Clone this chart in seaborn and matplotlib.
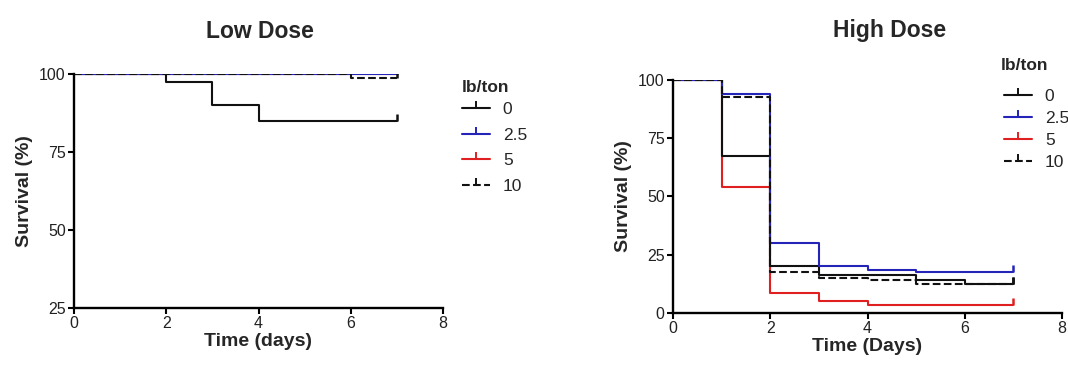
import numpy as np
import pandas as pd
import matplotlib
matplotlib.use("Agg")
import matplotlib.pyplot as plt
from matplotlib.lines import Line2D
import seaborn as sns

sns.set_style("ticks")
plt.rcParams['font.family'] = ['Liberation Sans', 'DejaVu Sans']

days = [0, 1, 2, 3, 4, 5, 6, 7]
doses = ["0", "2.5", "5", "10"]

low_0 = [100, 100, 97.5, 90, 85, 85, 85, 85]
low_2_5 = [100, 100, 100, 100, 100, 100, 100, 100]
low_5 = [100, 100, 100, 100, 100, 100, 100, 100]
low_10 = [100, 100, 100, 100, 100, 100, 98.7, 98.7]

high_0 = [100, 67.5, 20, 16.5, 16.5, 14, 12.5, 12.5]
high_2_5 = [100, 94, 30, 20, 18.5, 17.5, 17.5, 17.5]
high_5 = [100, 54, 8.5, 5, 3.5, 3.5, 3.5, 3.5]
high_10 = [100, 92.5, 17.5, 15, 14, 12.5, 12.5, 12.5]

colors = {"0": "#111111", "2.5": "#2424b8", "5": "#e02020", "10": "#111111"}
draw_order = ["5", "0", "2.5", "10"]


def build(series):
    rows = []
    for d, vals in zip(doses, series):
        for t, v in zip(days, vals):
            rows.append({"Time": t, "Survival": v, "Dose": d})
    return pd.DataFrame(rows)


low_df = build([low_0, low_2_5, low_5, low_10])
high_df = build([high_0, high_2_5, high_5, high_10])

fig = plt.figure(figsize=(10.68, 3.66), dpi=100)
axL = fig.add_axes([74 / 1068, 1 - 308 / 366, 369 / 1068, 234 / 366])
axR = fig.add_axes([673 / 1068, 1 - 313 / 366, 389 / 1068, 233 / 366])


def draw(ax, df):
    for d in draw_order:
        sub = df[df["Dose"] == d]
        ls = "--" if d == "10" else "-"
        sns.lineplot(data=sub, x="Time", y="Survival", ax=ax,
                     color=colors[d], drawstyle="steps-post",
                     linewidth=1.5, legend=False, linestyle=ls)
        # censor tick at the last observation
        last = sub.iloc[[-1]]
        ax.plot(last["Time"], last["Survival"], linestyle="none",
                marker=2, markersize=5, markeredgewidth=1.8,
                color=colors[d])
    for s in ["top", "right"]:
        ax.spines[s].set_visible(False)
    for s in ["left", "bottom"]:
        ax.spines[s].set_linewidth(1.7)
        ax.spines[s].set_color("black")
    ax.tick_params(axis="both", direction="out", length=4, width=1.5,
                   labelsize=11.5, colors="black", pad=2)
    for lab in ax.get_xticklabels() + ax.get_yticklabels():
        lab.set_color("#222222")
    ax.set_xlim(0, 8)
    ax.set_xticks([0, 2, 4, 6, 8])
    ax.set_ylabel("Survival (%)", fontsize=14, fontweight="bold", labelpad=4)


draw(axL, low_df)
axL.set_ylim(25, 100)
axL.set_yticks([25, 50, 75, 100])
axL.set_xlabel("Time (days)", fontsize=14, fontweight="bold", labelpad=1)

draw(axR, high_df)
axR.set_ylim(0, 100)
axR.set_yticks([0, 25, 50, 75, 100])
axR.set_xlabel("Time (Days)", fontsize=14, fontweight="bold", labelpad=1)

fig.text(260 / 1068, 1 - 31 / 366, "Low Dose", ha="center", va="center",
         fontsize=16.5, fontweight="bold")
fig.text(890 / 1068, 1 - 31 / 366, "High Dose", ha="center", va="center",
         fontsize=16.5, fontweight="bold")

legend_title = "lb/ton"
for title_xy, anchor, spacing in [((462, 87), (462, 102), 0.6),
                                  ((1001, 66), (1004, 89), 0.40)]:
    fig.text(title_xy[0] / 1068, 1 - title_xy[1] / 366, legend_title,
             ha="left", va="center", fontsize=12.5, fontweight="bold")
    hs = []
    for d in doses:
        hs.append(Line2D([], [], color=colors[d], linewidth=1.5,
                         linestyle="--" if d == "10" else "-",
                         marker=2, markersize=5, markeredgewidth=1.4))
    leg = fig.legend(hs, doses, loc="upper left",
                     bbox_to_anchor=(anchor[0] / 1068, 1 - anchor[1] / 366),
                     frameon=False, fontsize=12.5,
                     handlelength=1.6, handletextpad=0.75,
                     labelspacing=spacing,
                     borderaxespad=0, borderpad=0)

fig.savefig("out.png", dpi=100)
